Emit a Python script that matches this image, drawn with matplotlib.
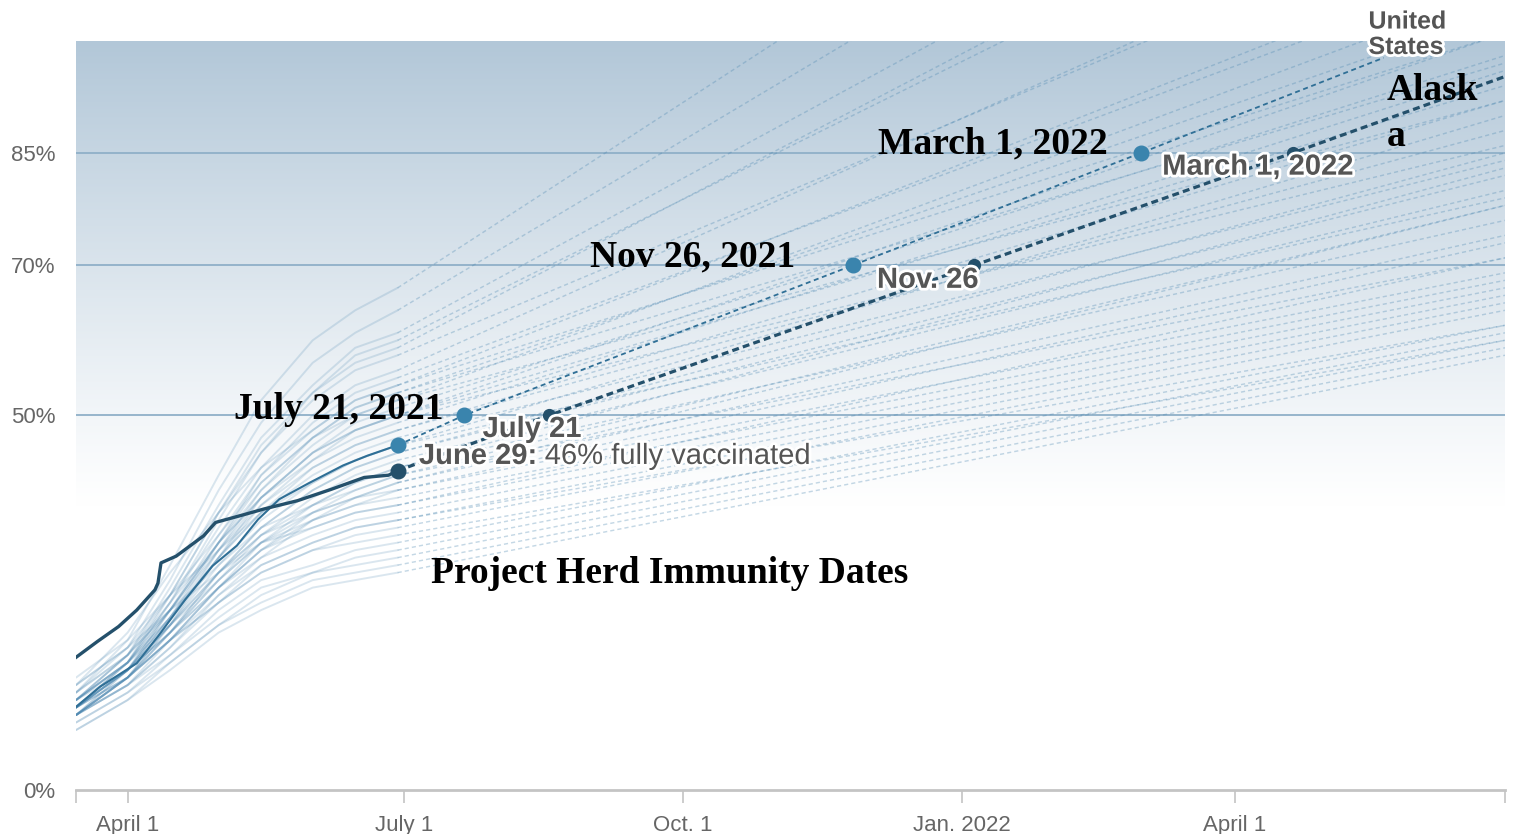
import numpy as np
import matplotlib
matplotlib.use('Agg')
import matplotlib.pyplot as plt
import matplotlib.patheffects as pe


# %% Data

state_dates = ['2021-03-15', '2021-04-01', '2021-04-15', '2021-05-01',
               '2021-05-15', '2021-06-01', '2021-06-15', '2021-06-29']

# Percent fully vaccinated for each background state, one list per date
state_mar15 = [13, 13, 12, 12, 11, 12, 11, 10, 11, 14, 11, 12, 10, 14, 10, 10,
               12, 13, 12, 11, 12, 11, 11, 15, 11, 10, 11, 10, 11, 10, 13, 10,
               10, 10, 12, 12, 11, 14, 11, 11, 10, 10, 11, 10, 9, 9, 8, 8]
state_apr01 = [20, 19, 18, 18, 17, 17, 17, 16, 16, 21, 16, 17, 16, 19, 15, 15,
               18, 18, 17, 17, 17, 16, 16, 20, 16, 15, 15, 15, 16, 15, 18, 14,
               15, 14, 17, 16, 16, 19, 16, 15, 14, 15, 15, 14, 13, 13, 12, 12]
state_apr15 = [30, 28, 27, 26, 26, 25, 25, 24, 24, 29, 23, 24, 23, 26, 22, 22,
               24, 25, 24, 23, 23, 23, 22, 26, 22, 21, 21, 21, 21, 20, 24, 20,
               20, 19, 22, 22, 21, 24, 21, 20, 19, 20, 20, 18, 18, 17, 17, 16]
state_may01 = [42, 40, 38, 37, 37, 36, 35, 34, 33, 37, 33, 33, 32, 34, 32, 31,
               33, 33, 32, 31, 31, 31, 30, 32, 29, 29, 29, 28, 28, 27, 30, 27,
               27, 26, 29, 28, 27, 29, 27, 26, 25, 25, 25, 24, 23, 22, 22, 21]
state_may15 = [52, 49, 47, 46, 45, 45, 43, 42, 42, 43, 41, 40, 40, 41, 39, 39,
               39, 39, 38, 37, 38, 37, 36, 37, 35, 35, 34, 34, 33, 33, 35, 32,
               32, 31, 34, 33, 32, 33, 31, 30, 30, 29, 29, 28, 27, 26, 25, 24]
state_jun01 = [60, 57, 54, 53, 53, 52, 50, 49, 48, 48, 47, 47, 46, 47, 45, 45,
               45, 44, 44, 43, 43, 42, 41, 41, 40, 40, 39, 38, 38, 37, 38, 37,
               36, 36, 37, 36, 35, 35, 34, 33, 33, 32, 32, 30, 29, 29, 28, 27]
state_jun15 = [64, 61, 59, 58, 57, 56, 54, 53, 52, 52, 51, 51, 50, 50, 49, 48,
               48, 48, 47, 46, 46, 45, 44, 44, 43, 43, 42, 41, 41, 40, 40, 39,
               39, 38, 39, 38, 37, 37, 36, 35, 35, 34, 33, 32, 31, 30, 29, 28]
state_jun29 = [67, 64, 61, 60, 59, 58, 56, 55, 54, 54, 53, 53, 52, 52, 51, 50,
               50, 50, 49, 48, 48, 47, 46, 46, 45, 45, 44, 43, 43, 42, 42, 41,
               41, 40, 40, 39, 38, 38, 37, 36, 36, 35, 34, 33, 32, 31, 30, 29]

# Projected value at the right edge of the chart
state_end_date = '2022-06-29'
state_end = [163, 152, 141, 133, 136, 120, 122, 110, 112, 101, 104, 97, 107, 92,
             98, 101, 94, 86, 96, 88, 92, 84, 90, 79, 85, 82, 80, 76, 83, 78,
             71, 78, 74, 73, 69, 68, 71, 67, 66, 65, 62, 64, 60, 62, 61, 60,
             59, 58]

# United States, observed
us_dates = ['2021-03-15', '2021-03-23', '2021-04-04', '2021-04-11', '2021-04-20',
            '2021-04-29', '2021-05-07', '2021-05-14', '2021-05-21', '2021-05-31',
            '2021-06-11', '2021-06-19', '2021-06-29']
us_pct = [11.1, 13.8, 16.9, 20.5, 25.4, 29.9, 32.6, 36.1, 38.8, 41.0, 43.3, 44.6, 46.0]

# United States, projected
us_proj_dates = ['2021-06-29', '2021-07-21', '2021-11-26', '2022-03-01', '2022-05-20']
us_proj_pct = [46.0, 50, 70, 85, 97.7]

# Alaska, observed
ak_dates = ['2021-03-15', '2021-03-22', '2021-03-29', '2021-04-04', '2021-04-10',
            '2021-04-11', '2021-04-12', '2021-04-17', '2021-04-26', '2021-04-30',
            '2021-05-09', '2021-05-16', '2021-05-27', '2021-06-07', '2021-06-18',
            '2021-06-26', '2021-06-29']
ak_pct = [17.7, 19.8, 21.8, 24.0, 26.7, 27.6, 30.3, 31.2, 33.9, 35.7, 36.7, 37.5,
          38.6, 40.1, 41.7, 42.0, 42.6]

# Alaska, projected
ak_proj_dates = ['2021-06-29', '2021-08-18', '2022-01-05', '2022-04-20', '2022-06-29']
ak_proj_pct = [42.6, 50, 70, 85, 95.2]

grid_levels = [50, 70, 85]
y_ticks = [0, 50, 70, 85]
x_ticks = ['2021-03-15', '2021-04-01', '2021-07-01', '2021-10-01', '2022-01-01',
           '2022-04-01', '2022-06-29']
x_tick_labels = ['', 'April 1', 'July 1', 'Oct. 1', 'Jan. 2022', 'April 1', '']


def d(s):
    return np.datetime64(s)


def ds(lst):
    return np.array(lst, dtype='datetime64[D]')


# %% Plot

plt.rcParams['font.family'] = ['Liberation Sans', 'DejaVu Sans']
plt.rcParams['lines.scale_dashes'] = False

fig = plt.figure(figsize=(15.15, 8.34), dpi=100)
ax = fig.add_axes([0.0502, 0.0528, 0.9432, 0.8986])

x0, x1 = d('2021-03-15'), d('2022-06-29')
ax.set_xlim(x0, x1)
ax.set_ylim(0, 100)

# background gradient, white at the bottom to steel blue at the top
yy = np.linspace(0, 100, 400)
t = np.clip((yy - 38) / 62, 0, 1)[:, None] ** 1.1
top = np.array([178, 199, 216]) / 255
grad = (1 - t) * np.ones(3) + t * top
ax.imshow(grad[:, None, :].repeat(2, axis=1), origin='lower', aspect='auto',
          extent=[matplotlib.dates.date2num(x0), matplotlib.dates.date2num(x1), 0, 100],
          zorder=0, interpolation='bilinear')

for lvl in grid_levels:
    ax.axhline(lvl, color='#8fb0c8', lw=1.3, zorder=1)

# faint background states
sdates = ds(state_dates)
for i in range(len(state_jun29)):
    vals = [state_mar15[i], state_apr01[i], state_apr15[i], state_may01[i],
            state_may15[i], state_jun01[i], state_jun15[i], state_jun29[i]]
    ax.plot(sdates, vals, color='#4a86b0', alpha=0.2, lw=1.4, zorder=2,
            solid_capstyle='round')
    ax.plot(ds([state_dates[-1], state_end_date]), [state_jun29[i], state_end[i]],
            color='#4a86b0', alpha=0.32, lw=1.05, dashes=(3, 2.2), zorder=2)

# United States
us_col = '#3a84ad'
ax.plot(ds(us_dates), us_pct, color='#2f6f96', lw=1.5, zorder=4)
ax.plot(ds(us_proj_dates), us_proj_pct, color='#2f6f96', lw=1.3, dashes=(3.6, 2.6), zorder=4)
ax.plot(ds(us_proj_dates[:4]), us_proj_pct[:4], 'o', color=us_col, ms=10.5, zorder=5)

# Alaska
ak_col = '#24506b'
ax.plot(ds(ak_dates), ak_pct, color=ak_col, lw=2.4, zorder=4)
ax.plot(ds(ak_proj_dates), ak_proj_pct, color=ak_col, lw=2.3, dashes=(5, 3), zorder=4)
ax.plot(ds(ak_proj_dates[:1]), ak_proj_pct[:1], 'o', color=ak_col, ms=10.5, zorder=5)
ax.plot(ds(ak_proj_dates[1:4]), ak_proj_pct[1:4], 'o', color=ak_col, ms=8.5, zorder=5)

# axes styling
for side in ['top', 'right', 'left']:
    ax.spines[side].set_visible(False)
ax.spines['bottom'].set_color('#c4c4c4')
ax.spines['bottom'].set_linewidth(2)
ax.set_xticks(ds(x_ticks))
ax.set_xticklabels(x_tick_labels)
ax.tick_params(axis='x', colors='#c4c4c4', length=9, width=1.2, pad=9,
               labelsize=16, labelcolor='#666666')
ax.set_yticks(y_ticks)
ax.set_yticklabels([f'{v}%' for v in y_ticks])
ax.tick_params(axis='y', length=0, pad=15, labelsize=16, labelcolor='#666666')

# annotations
halo = [pe.withStroke(linewidth=4, foreground='white')]
gray = '#555555'
serif = dict(family='Liberation Serif', weight='bold', fontsize=27, color='black', zorder=6)

ax.text(d('2021-07-14'), 49.5, 'July 21, 2021', ha='right', va='baseline', **serif)
ax.text(d('2021-11-07'), 69.9, 'Nov 26, 2021', ha='right', va='baseline', **serif)
ax.text(d('2022-02-18'), 84.9, 'March 1, 2022', ha='right', va='baseline', **serif)
ax.text(d('2021-07-10'), 27.6, 'Project Herd Immunity Dates', ha='left', va='baseline', **serif)
ax.text(d('2022-05-21'), 92.0, 'Alask', ha='left', va='baseline', **serif)
ax.text(d('2022-05-21'), 85.9, 'a', ha='left', va='baseline', **serif)

lab = dict(fontsize=21, color=gray, path_effects=halo, zorder=6, va='baseline')
ax.text(d('2021-07-27'), 47.1, 'July 21', ha='left', weight='bold', **lab)
t1 = ax.text(d('2021-07-06'), 43.5, 'June 29:', ha='left', weight='bold', **lab)
ax.annotate(' 46% fully vaccinated', xycoords=t1, xy=(1, 0), va='bottom',
            fontsize=21, color=gray, path_effects=halo, zorder=6)
ax.text(d('2021-12-04'), 67.0, 'Nov. 26', ha='left', weight='bold', **lab)
ax.text(d('2022-03-08'), 82.1, 'March 1, 2022', ha='left', weight='bold', **lab)
ax.text(d('2022-05-15'), 101.6, 'United', ha='left', weight='bold', fontsize=18,
        color=gray, path_effects=halo, va='baseline', zorder=6)
ax.text(d('2022-05-15'), 98.2, 'States', ha='left', weight='bold', fontsize=18,
        color=gray, path_effects=halo, va='baseline', zorder=6)

fig.savefig('out.png', dpi=100)
